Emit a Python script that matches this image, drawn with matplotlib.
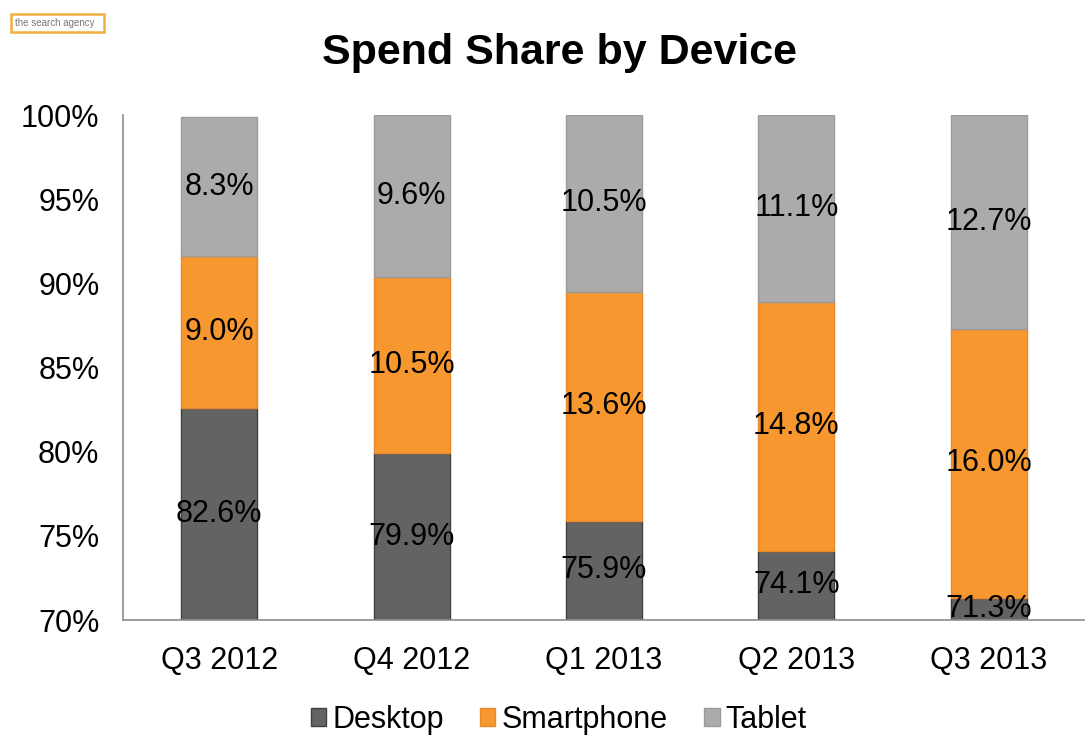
import numpy as np
import matplotlib
matplotlib.use("Agg")
import matplotlib.pyplot as plt

plt.rcParams["font.family"] = ["Liberation Sans", "DejaVu Sans"]

# 数据
quarters = ["Q3 2012", "Q4 2012", "Q1 2013", "Q2 2013", "Q3 2013"]
desktop = [82.6, 79.9, 75.9, 74.1, 71.3]
smartphone = [9.0, 10.5, 13.6, 14.8, 16.0]
tablet = [8.3, 9.6, 10.5, 11.1, 12.7]

series = [("Desktop", desktop, "#636363", "#404040"),
          ("Smartphone", smartphone, "#F7972F", "#E8892A"),
          ("Tablet", tablet, "#ABABAB", "#9A9A9A")]

y_min, y_max = 70, 100

fig = plt.figure(figsize=(10.85, 7.36), dpi=100)
ax = fig.add_axes([123 / 1085, 116 / 736, 962 / 1085, 505 / 736])

x = np.arange(len(quarters))
bottom = np.zeros(len(quarters))
for name, vals, color, edge in series:
    vals = np.array(vals)
    ax.bar(x, vals, 0.395, bottom=bottom, color=color, edgecolor=edge,
           linewidth=1, label=name)
    # 标签放在可见部分的中间
    lo = np.clip(bottom, y_min, y_max)
    hi = np.clip(bottom + vals, y_min, y_max)
    for xi, v, a, b in zip(x, vals, lo, hi):
        ax.text(xi, (a + b) / 2, f"{v:.1f}%", ha="center", va="center",
                fontsize=22, color="black")
    bottom = bottom + vals

ax.set_xlim(-0.5, len(quarters) - 0.5)
ax.set_ylim(y_min, y_max)
ax.set_yticks(np.arange(70, 101, 5))
ax.set_yticklabels([f"{t}%" for t in range(70, 101, 5)])
ax.set_xticks(x)
ax.set_xticklabels(quarters)
ax.tick_params(axis="both", length=0, labelsize=22)
ax.tick_params(axis="y", pad=17)
ax.tick_params(axis="x", pad=19)
for s in ["top", "right"]:
    ax.spines[s].set_visible(False)
for s in ["left", "bottom"]:
    ax.spines[s].set_color("#8c8c8c")
    ax.spines[s].set_linewidth(1.2)

fig.text(0.516, 0.928, "Spend Share by Device", ha="center", va="center",
         fontsize=31, fontweight="bold")

# 左上角的小 logo
fig.text(0.014, 0.969, "the search agency  ", ha="left", va="center", fontsize=7,
         color="#777777",
         bbox=dict(boxstyle="square,pad=0.4", facecolor="white",
                   edgecolor="#F0B040", linewidth=1.8))

fig.legend(loc="lower center", bbox_to_anchor=(0.515, -0.036), ncol=3,
           frameon=False, fontsize=22, handlelength=0.5, handleheight=0.5,
           handletextpad=0.2, columnspacing=1.2)

fig.savefig("out.png", dpi=100)
